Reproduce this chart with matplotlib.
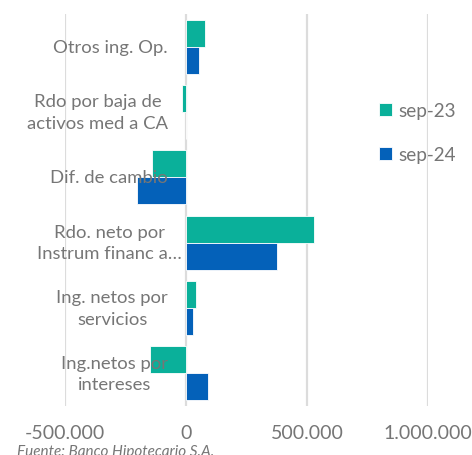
import numpy as np
from matplotlib import pyplot as plt

categories = ['Otros ing. Op.', 'Rdo por baja de\nactivos med a CA', 'Dif. de cambio',
              'Rdo. neto por\nInstrum financ a…', 'Ing. netos por\nservicios', 'Ing.netos por\nintereses']
sep23 = [77000, -16000, -142000, 529000, 43000, -149000]
sep24 = [55000, 0, -201000, 375000, 30000, 91000]
ticks = [-500000, 0, 500000, 1000000]
tick_labels = ['-500.000', '0', '500.000', '1.000.000']

green = '#0AB09A'
blue = '#0461B9'
gray = '#767676'
plt.rcParams['font.family'] = ['Lato', 'DejaVu Sans']

W, H = 472, 456
fig = plt.figure(figsize=(W / 100, H / 100), dpi=100)
ax = fig.add_axes([65 / W, (H - 407) / H, (428 - 65) / W, 392 / H])

y = np.arange(len(categories))
h = 0.413
ax.barh(y - h / 2, sep23, height=h, color=green, edgecolor='white', linewidth=0.6, label='sep-23', zorder=2)
ax.barh(y + h / 2, sep24, height=h, color=blue, edgecolor='white', linewidth=0.6, label='sep-24', zorder=2)

ax.set_xlim(-500000, 1000000)
ax.set_ylim(len(categories) - 0.5, -0.5)
ax.set_xticks(ticks)
ax.set_xticklabels(tick_labels, fontsize=14, color=gray)
ax.tick_params(axis='x', length=0, pad=13)
ax.set_yticks([])
ax.grid(axis='x', color='#dcdcdc', linewidth=1.6, zorder=0)
for s in ax.spines.values():
    s.set_visible(False)

# category labels drawn over the plot, right edge at ~168 px
# (the truncated one sticks out a bit further, as in the original)
for i, c in enumerate(categories):
    right = 182 if c.endswith('…') else 168
    ax.text((right - 65) / (428 - 65), i, c, transform=ax.get_yaxis_transform(),
            ha='right', va='center', multialignment='center', fontsize=13.3,
            color=gray, linespacing=1.4, zorder=5, clip_on=False)

leg = fig.legend(loc='upper left', bbox_to_anchor=(362 / W, 1 - 86 / H), frameon=False,
                 fontsize=13.6, handlelength=0.7, handleheight=0.7, handletextpad=0.3,
                 labelspacing=1.45, labelcolor=gray)

fig.text(17 / W, 1 - 452 / H, 'Fuente: Banco Hipotecario S.A.', fontsize=11, style='italic',
         color=gray, ha='left', va='center')

fig.savefig('out.png', dpi=100)
